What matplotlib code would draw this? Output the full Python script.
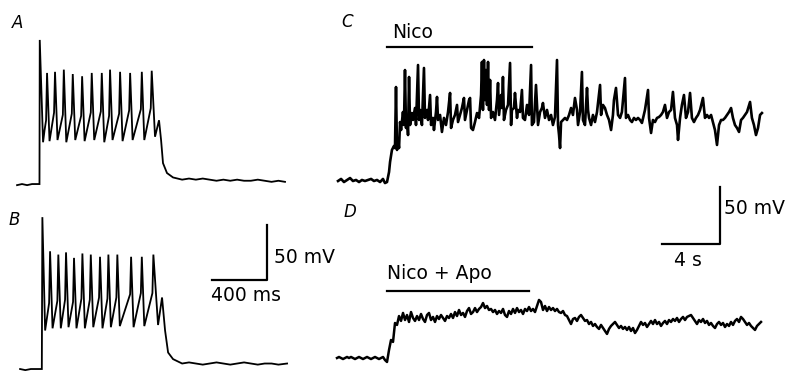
import numpy as np
import matplotlib.pyplot as plt

plt.rcParams['font.family'] = 'DejaVu Sans'

# Panel A / B: evoked firing, (time ms, membrane potential mV)
a_trace = [(0, -61), (36, -60), (73, -61), (109, -60), (145, -60), (163, -60),
           (165, 71), (189, -22), (200, -11), (211, -2),
           (218, 41), (236, -21), (269, 5), (276, 42), (294, -20), (333, 3),
           (340, 44), (358, -22), (398, 4), (405, 40), (423, -20), (466, 2),
           (473, 38), (491, -21), (536, 5), (543, 41), (561, -20), (609, 6),
           (616, 41), (634, -22), (669, 2), (676, 44), (694, -20), (742, 4),
           (749, 42), (767, -21), (815, 7), (822, 41), (840, -20), (900, 8),
           (907, 42), (925, -20), (972, 9), (979, 43), (1003, -17), (1032, -2),
           (1047, -20), (1061, -41), (1090, -50), (1134, -54), (1200, -56),
           (1250, -55), (1300, -56), (1350, -55), (1400, -56), (1450, -57),
           (1500, -56), (1550, -57), (1600, -56), (1650, -57), (1700, -57),
           (1750, -56), (1800, -57), (1850, -58), (1900, -57), (1948, -58)]

b_trace = [(22, -60), (60, -61), (100, -60), (140, -60), (180, -60),
           (184, 78), (204, -25),
           (233, 0), (240, 47), (258, -23), (293, 2), (300, 44), (318, -23),
           (349, 3), (356, 46), (374, -22), (407, 1), (414, 41), (432, -23),
           (468, 4), (475, 45), (493, -23), (529, 3), (536, 44), (554, -22),
           (596, 5), (603, 42), (621, -23), (657, 4), (664, 44), (682, -22),
           (722, 5), (729, 44), (747, -21), (822, 8), (829, 42), (847, -22),
           (900, 9), (907, 42), (925, -21), (984, 9), (991, 44),
           (1025, -20), (1054, 5), (1076, -25), (1098, -45), (1134, -51),
           (1200, -55), (1250, -54), (1300, -55), (1350, -56), (1400, -55),
           (1450, -54), (1500, -55), (1550, -56), (1600, -55), (1650, -54),
           (1700, -55), (1750, -56), (1800, -55), (1850, -55), (1900, -56),
           (1963, -55)]

# Panel C: nicotine, (time s, membrane potential mV)
c_trace = [(0.14, -60), (0.35, -58.2), (0.55, -60.9), (0.76, -59.1), (0.97, -57.4),
           (1.17, -60), (1.38, -59.1), (1.59, -60.9), (1.79, -59.1), (2.00, -60),
           (2.21, -59.1), (2.42, -58.2), (2.62, -60), (2.83, -59.1), (3.04, -60.9),
           (3.24, -58.2), (3.38, -61.8), (3.52, -60.9), (3.66, -52.1), (3.73, -43.3),
           (3.86, -32.8), (4.00, -29.3), (4.07, -31.1), (4.14, 22.4), (4.21, -32.8),
           (4.28, -24.0), (4.35, -31.1), (4.42, -8.3), (4.49, -15.3), (4.62, 0.5),
           (4.69, -10.9), (4.76, 37.3), (4.83, -13.5), (4.90, -4.7), (4.97, -19.7),
           (5.04, 31.2), (5.11, -10.9), (5.24, -0.4), (5.31, -6.5), (5.45, 4.0),
           (5.52, -10.9), (5.66, 41.7), (5.73, -6.5), (5.80, 2.3), (5.93, -10.9),
           (6.07, 39.1), (6.14, -4.7), (6.28, 2.3), (6.35, -6.5), (6.49, 15.4),
           (6.56, -10.9), (6.69, -4.7), (6.76, -15.3), (6.90, 0.5), (6.97, 13.7),
           (7.04, -6.5), (7.18, -2.1), (7.31, -17.0), (7.45, -4.7), (7.59, -10.9),
           (7.73, 0.5), (7.87, 17.2), (7.94, -13.5), (8.07, -6.5), (8.21, -2.1),
           (8.35, 6.7), (8.42, -8.3), (8.56, -2.1), (8.69, 4.0), (8.83, 12.8),
           (8.90, -6.5), (9.04, 2.3), (9.18, 11.0), (9.25, 12.8), (9.32, -13.5),
           (9.45, -15.3), (9.59, -8.3), (9.73, -0.4), (9.87, -4.7), (10.01, 15.4),
           (10.07, 44.4), (10.14, 2.3), (10.21, 46.1), (10.28, 11.0), (10.35, 37.3),
           (10.42, 6.7), (10.49, 44.4), (10.56, 2.3), (10.63, 28.6), (10.70, -4.7),
           (10.83, 0.5), (10.97, -6.5), (11.11, 11.0), (11.18, 25.9), (11.25, -2.1),
           (11.39, 15.4), (11.45, 4.0), (11.52, 31.2), (11.59, -6.5), (11.73, 2.3),
           (11.87, 6.7), (12.01, 43.5), (12.08, -10.9), (12.14, 2.3), (12.28, 4.0),
           (12.35, 17.2), (12.49, -4.7), (12.56, 2.3), (12.70, 0.5), (12.83, 19.8),
           (12.90, -4.7), (13.04, -6.5), (13.18, 6.7), (13.32, -2.1), (13.46, 41.7),
           (13.52, -10.9), (13.66, -8.3), (13.80, 24.2), (13.94, -10.9), (14.08, 0.5),
           (14.21, 4.0), (14.28, 8.4), (14.42, -4.7), (14.56, 2.3), (14.70, -6.5),
           (14.84, -2.1), (14.97, -10.9), (15.11, -3.9), (15.25, 46.1), (15.32, -10.9),
           (15.39, -19.7), (15.46, -31.1), (15.53, -8.3), (15.66, -6.5), (15.80, -4.7),
           (15.94, -6.5), (16.08, -2.1), (16.22, 4.0), (16.35, -2.1), (16.49, 12.8),
           (16.63, 2.3), (16.70, -10.9), (16.84, 0.5), (16.97, 35.6), (17.04, -6.5),
           (17.18, -10.9), (17.32, 21.6), (17.39, 2.3), (17.46, -4.7), (17.60, -10.9),
           (17.73, -2.1), (17.87, -8.3), (18.01, 0.5), (18.22, 24.2), (18.29, -2.1),
           (18.42, 6.7), (18.56, 4.0), (18.70, -2.1), (18.84, -6.5), (18.98, -15.3),
           (19.11, -2.1), (19.18, 11.0), (19.32, 21.6), (19.46, -2.1), (19.60, -4.7),
           (19.73, 0.5), (19.94, 30.3), (20.01, -4.7), (20.15, -2.1), (20.29, -6.5),
           (20.42, -8.3), (20.56, -4.7), (20.70, -6.5), (20.84, -4.7), (20.98, -6.5),
           (21.11, -9.1), (21.32, 2.3), (21.53, 19.8), (21.60, -4.7), (21.74, -17.9),
           (21.87, -6.5), (22.01, -8.3), (22.15, -4.7), (22.29, -3.9), (22.43, -2.1),
           (22.56, 0.5), (22.70, 6.7), (22.84, -4.7), (22.98, 0.5), (23.12, 2.3),
           (23.25, 18.1), (23.39, -4.7), (23.53, -10.9), (23.60, -24.0), (23.74, -4.7),
           (23.87, 6.7), (24.01, 15.4), (24.15, -4.7), (24.29, 0.5), (24.43, 17.2),
           (24.56, -4.7), (24.70, -8.3), (24.84, -4.7), (24.98, -2.1), (25.12, 2.3),
           (25.32, 12.8), (25.46, -4.7), (25.60, -2.1), (25.74, -4.7), (25.88, -2.1),
           (26.01, -8.3), (26.15, -15.3), (26.29, -28.4), (26.43, -10.9), (26.57, -6.5),
           (26.70, -6.5), (26.84, -4.7), (26.98, -2.1), (27.12, 0.5), (27.26, 4.0),
           (27.39, -4.7), (27.53, -10.9), (27.67, -13.5), (27.81, -17.0), (27.95, -6.5),
           (28.08, -4.7), (28.22, -2.1), (28.36, 0.5), (28.57, 9.3), (28.70, -4.7),
           (28.84, -10.9), (28.98, -19.7), (29.12, -13.5), (29.26, -2.1), (29.39, -0.4)]

# Panel D: nicotine + apomorphine, sampled every d_dt seconds (mV)
d_t0, d_dt = 0.07, 0.138
d_v = [-60.0, -59.1, -60.0, -60.9, -60.0, -59.1, -60.0, -59.1, -60.0, -60.9,
       -60.0, -59.1, -60.0, -60.9, -60.0, -59.1, -60.0, -60.9, -60.0, -59.1,
       -60.0, -60.9, -60.0, -59.1, -61.8, -63.5, -53.0, -44.2, -45.9, -29.3,
       -31.0, -23.2, -27.5, -20.5, -26.7, -22.3, -28.4, -19.7, -24.9, -27.5,
       -23.2, -26.7, -21.4, -25.8, -28.4, -22.3, -20.5, -26.7, -24.0, -28.4,
       -23.2, -25.8, -22.3, -24.9, -27.5, -23.2, -24.9, -21.4, -24.9, -19.7,
       -23.2, -17.9, -22.3, -20.5, -24.0, -18.8, -16.2, -21.4, -19.7, -16.2,
       -19.7, -17.0, -15.3, -11.8, -16.2, -14.4, -17.9, -17.0, -19.7, -17.9,
       -21.4, -18.8, -20.5, -17.0, -22.3, -24.0, -18.8, -21.4, -17.0, -20.5,
       -16.2, -19.7, -17.9, -21.4, -17.0, -18.8, -15.3, -18.8, -17.0, -19.7,
       -14.4, -9.1, -10.9, -17.9, -14.4, -18.8, -15.3, -17.9, -16.2, -18.8,
       -17.0, -19.7, -20.5, -18.8, -22.3, -23.2, -26.7, -30.2, -25.8, -24.9,
       -27.5, -24.0, -22.3, -24.9, -27.5, -26.7, -30.2, -28.4, -31.9, -30.2,
       -32.8, -34.5, -31.0, -33.7, -36.3, -38.9, -34.5, -31.9, -30.2, -28.4,
       -31.0, -33.7, -31.9, -34.5, -32.8, -35.4, -32.8, -36.3, -33.7, -38.1,
       -35.4, -31.9, -28.4, -31.0, -29.3, -32.8, -30.2, -27.5, -30.2, -26.7,
       -30.2, -28.4, -31.9, -29.3, -27.5, -30.2, -26.7, -28.4, -25.8, -27.5,
       -24.9, -28.4, -25.8, -24.0, -26.7, -24.0, -23.2, -22.3, -24.9, -27.5,
       -30.2, -26.7, -28.4, -25.8, -29.3, -27.5, -31.0, -29.3, -31.9, -33.7,
       -30.2, -28.4, -31.0, -29.3, -32.8, -30.2, -31.9, -28.4, -31.0, -27.5,
       -25.8, -28.4, -24.0, -25.8, -28.4, -31.0, -29.3, -31.9, -33.7, -35.4,
       -31.9, -30.2, -28.4]

# drug application periods (s)
nico_on = (3.5, 13.5)
nico_apo_on = (3.5, 13.3)

W, H = 787, 371
fig = plt.figure(figsize=(W / 100, H / 100), dpi=100)


def panel(x0, y0, x1, y1, xlim, ylim):
    ax = fig.add_axes([x0 / W, 1 - y1 / H, (x1 - x0) / W, (y1 - y0) / H])
    ax.set_xlim(xlim)
    ax.set_ylim(ylim)
    ax.axis('off')
    return ax


axA = panel(0, 0, 300, 200, (-124, 2057), (-74.5, 107.3))
axB = panel(0, 200, 330, 371, (-124, 2275), (-61.8, 93.6))
axC = panel(330, 0, 787, 250, (-0.414, 31.12), (-120.5, 98.7))
axD = panel(330, 250, 787, 371, (-0.414, 31.12), (-71.4, 34.7))

for ax, trace in [(axA, a_trace), (axB, b_trace)]:
    t, v = np.array(trace).T
    ax.plot(t, v, color='black', lw=1.3, clip_on=False, solid_joinstyle='miter')

t, v = np.array(c_trace).T
axC.plot(t, v, color='black', lw=1.9, clip_on=False)
d_t = d_t0 + d_dt * np.arange(len(d_v))
axD.plot(d_t, d_v, color='black', lw=1.8, clip_on=False)

# scale bars
axB.plot([1418, 1818, 1818], [21, 21, 71], color='black', lw=1.6, clip_on=False)
axB.text(1868, 41, '50 mV', fontsize=13.5, ha='left', va='center')
axB.text(1661, 7, '400 ms', fontsize=13.5, ha='center', va='center')

axC.plot([22.5, 26.5, 26.5], [-115.3, -115.3, -65.3], color='black', lw=1.6, clip_on=False)
axC.text(26.8, -83.7, '50 mV', fontsize=13.5, ha='left', va='center')
axC.text(24.25, -129.3, '4 s', fontsize=13.5, ha='center', va='center')

# drug bars
axC.plot(nico_on, [57.3, 57.3], color='black', lw=1.6, clip_on=False)
axC.text(3.84, 69.8, 'Nico', fontsize=13.5, ha='left', va='center')
axD.plot(nico_apo_on, [-1.2, -1.2], color='black', lw=1.6, clip_on=False)
axD.text(3.5, 13.7, 'Nico + Apo', fontsize=13.5, ha='left', va='center')

for lab, x, y in [('A', 18, 23), ('B', 14, 220), ('C', 347, 22), ('D', 350, 212)]:
    fig.text(x / W, 1 - y / H, lab, fontsize=12, style='italic', ha='center', va='center')

fig.savefig('out.png', dpi=100, facecolor='white')
